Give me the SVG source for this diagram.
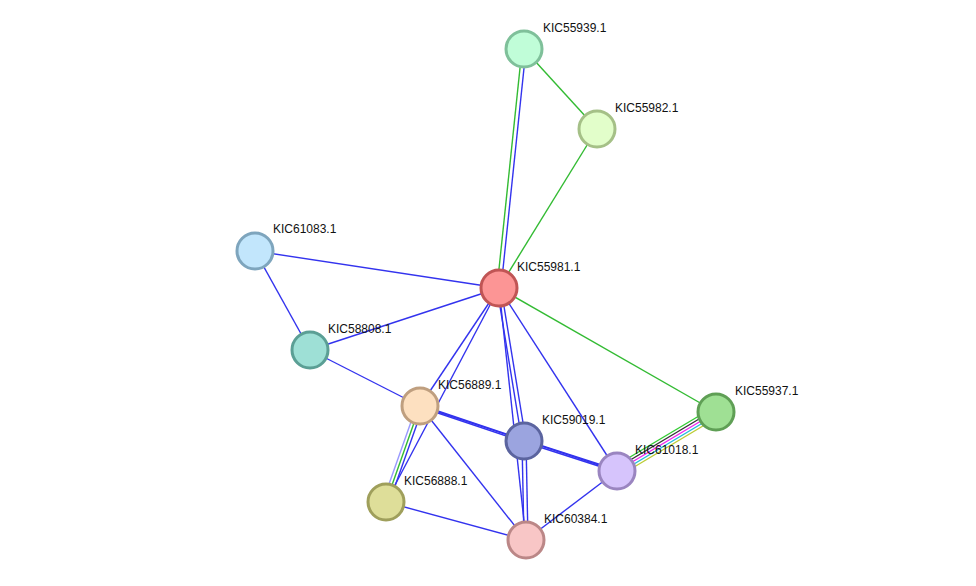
<svg xmlns="http://www.w3.org/2000/svg" width="976" height="586" viewBox="0 0 976 586">
<style>
.e{stroke-width:1.4;fill:none}
.b{stroke:#3333ee}.g{stroke:#33bb33}
circle{stroke-width:3}
text{font-family:"Liberation Sans",Arial,sans-serif;font-size:12px;fill:#111}
</style>
<rect width="976" height="586" fill="#fff"/>
<g id="edges" class="e">
<line class="g" x1="522" y1="49" x2="497" y2="288"/><line class="b" x1="526" y1="49" x2="501" y2="288"/>
<line class="g" x1="524" y1="49" x2="597" y2="129"/>
<line class="g" x1="597" y1="129" x2="499" y2="288"/>
<line class="b" x1="255" y1="251" x2="499" y2="288"/>
<line class="b" x1="255" y1="251" x2="310" y2="350"/>
<line class="b" x1="310" y1="350" x2="499" y2="288"/>
<line class="b" x1="310" y1="350" x2="420" y2="406"/>
<line class="b" x1="499" y1="288" x2="420" y2="406"/>
<line class="b" x1="499" y1="288" x2="386" y2="502"/>
<line class="b" x1="497" y1="288" x2="522" y2="441"/><line class="b" x1="501" y1="288" x2="526" y2="441"/>
<line class="b" x1="499" y1="288" x2="526" y2="540"/>
<line class="b" x1="499" y1="288" x2="617" y2="471"/>
<line class="g" x1="499" y1="288" x2="716" y2="412"/>
<line class="b" x1="420" y1="405" x2="524" y2="440"/><line class="b" x1="420" y1="407" x2="524" y2="442"/>
<line class="b" x1="524" y1="440" x2="617" y2="470"/><line class="b" x1="524" y1="442" x2="617" y2="472"/>
<line class="b" x1="420" y1="406" x2="617" y2="471"/>
<line stroke="#9999ff" x1="417" y1="405" x2="383" y2="501"/>
<line class="g" x1="420" y1="406" x2="386" y2="502"/>
<line class="b" x1="423" y1="407" x2="389" y2="503"/>
<line class="b" x1="420" y1="406" x2="526" y2="540"/>
<line class="b" x1="522" y1="441" x2="524" y2="540"/><line class="b" x1="526" y1="441" x2="528" y2="540"/>
<line class="b" x1="617" y1="471" x2="526" y2="540"/>
<line class="b" x1="386" y1="502" x2="526" y2="540"/>
<line stroke="#33cc33" x1="714" y1="407" x2="615" y2="466"/>
<line stroke="#333333" x1="715" y1="409.5" x2="616" y2="468.5"/>
<line stroke="#ee22ee" x1="716" y1="412" x2="617" y2="471"/>
<line stroke="#22bbdd" x1="717" y1="414.5" x2="618" y2="473.5"/>
<line stroke="#bbcc33" x1="718" y1="417" x2="619" y2="476"/>
</g>
<g id="KIC55939.1"><circle cx="524" cy="49" r="18" fill="#c0fdd8" stroke="#7fc09a"/><text x="543" y="32">KIC55939.1</text></g>
<g id="KIC55982.1"><circle cx="597" cy="129" r="18" fill="#e2feca" stroke="#a5c087"/><text x="615" y="112">KIC55982.1</text></g>
<g id="KIC61083.1"><circle cx="255" cy="251" r="18" fill="#c2e6fc" stroke="#7ea5bd"/><text x="273" y="233">KIC61083.1</text></g>
<g id="KIC55981.1"><circle cx="499" cy="288" r="18" fill="#fc9595" stroke="#c05555"/><text x="517" y="271">KIC55981.1</text></g>
<g id="KIC58808.1"><circle cx="310" cy="350" r="18" fill="#9ee0d6" stroke="#5b9f95"/><text x="328" y="333">KIC58808.1</text></g>
<g id="KIC56889.1"><circle cx="420" cy="406" r="18" fill="#fde0c0" stroke="#bf9f7f"/><text x="438" y="389">KIC56889.1</text></g>
<g id="KIC59019.1"><circle cx="524" cy="441" r="18" fill="#9ba4df" stroke="#5b649f"/><text x="542" y="424">KIC59019.1</text></g>
<g id="KIC55937.1"><circle cx="716" cy="412" r="18" fill="#9fe094" stroke="#5f9f55"/><text x="735" y="395">KIC55937.1</text></g>
<g id="KIC61018.1"><circle cx="617" cy="471" r="18" fill="#d6c4fc" stroke="#9a85c0"/><text x="635" y="454">KIC61018.1</text></g>
<g id="KIC56888.1"><circle cx="386" cy="502" r="18" fill="#dede99" stroke="#9f9f5b"/><text x="404" y="485">KIC56888.1</text></g>
<g id="KIC60384.1"><circle cx="526" cy="540" r="18" fill="#f8c6c6" stroke="#bb8787"/><text x="544" y="523">KIC60384.1</text></g>
</svg>
